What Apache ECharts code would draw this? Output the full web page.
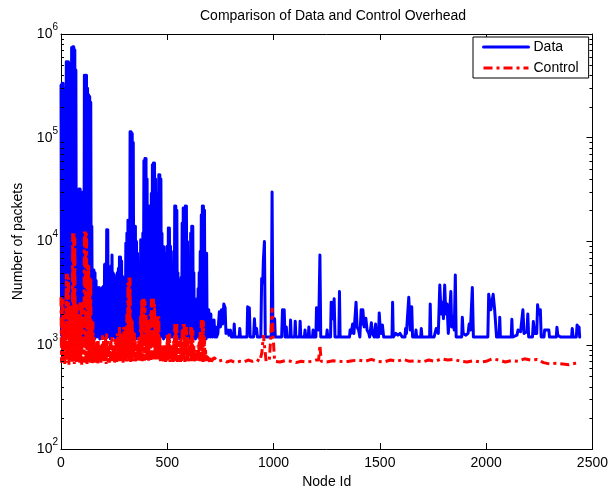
<!DOCTYPE html>
<html>
<head>
<meta charset="utf-8">
<script src="https://cdn.jsdelivr.net/npm/echarts@6/dist/echarts.min.js"></script>
<style>html,body{margin:0;padding:0;background:#fff}#c{width:611px;height:495px}</style>
</head>
<body>
<div id="c"></div>
<script>
// ---- data ----
const xTicks = [0, 500, 1000, 1500, 2000, 2500];
const yMajorTicks = [100, 1000, 10000, 100000, 1000000];
const yMinorTicks = [200,300,400,500,600,700,800,900,
  2000,3000,4000,5000,6000,7000,8000,9000,
  20000,30000,40000,50000,60000,70000,80000,90000,
  200000,300000,400000,500000,600000,700000,800000,900000];

// Dense part of "Data": [node id, local high, local low] (values oscillate node to node)
const dataDense = [
[0,320000,1250],[5,335000,1200],[10,335000,1300],[15,300000,1200],[20,114000,1150],[25,540000,1250],[30,540000,1200],[35,540000,1300],
[40,520000,1200],[45,79000,1150],[50,740000,1250],[55,755000,1200],[60,755000,1300],[65,700000,1200],[70,450000,1250],[75,22000,1150],
[80,22000,1200],[85,32000,1300],[90,32000,1200],[95,30000,1250],[100,22000,1150],[105,30000,1200],[110,400000,1300],[115,400000,1200],
[120,400000,1250],[125,300000,1200],[130,260000,1150],[135,250000,1300],[140,220000,1200],[145,14000,1250],[150,5300,1200],[155,5300,1150],
[160,5000,1300],[165,4200,1200],[170,3600,1250],[175,3500,1200],[180,3600,1150],[185,3400,1300],[190,3500,1200],[195,3600,1250],
[200,3700,1200],[205,6000,1150],[210,6100,1300],[215,13000,1200],[220,13000,1250],[225,4400,1200],[230,4400,1150],[235,5800,1300],
[240,7400,1200],[245,5000,1250],[250,4800,1200],[255,4200,1150],[260,4500,1300],[265,5000,1200],[270,5500,1250],[275,7100,1200],
[280,7100,1150],[285,6500,1300],[290,4600,1200],[295,4400,1250],[300,4300,1200],[305,9600,1150],[310,12000,1300],[315,16000,1200],
[320,16000,1250],[325,114000,1200],[330,114000,1150],[335,110000,1300],[340,90000,1200],[345,14000,1250],[350,14000,1200],[355,10000,1150],
[360,7700,1300],[365,4500,1200],[370,4000,1250],[375,10400,1200],[380,10400,1150],[385,12000,1300],[390,60000,1200],[395,63000,1250],
[400,63000,1200],[405,40000,1150],[410,22000,1300],[415,22000,1200],[420,20000,1250],[425,29000,1200],[430,55000,1150],[435,57000,1300],
[440,57000,1200],[445,40000,1250],[450,29000,1200],[455,29000,1150],[460,44000,1300],[465,44000,1200],[470,40000,1250],[475,12000,1200],
[480,8900,1150],[485,8900,1300],[490,7700,1200],[495,7700,1250],[500,9000,1200],[505,13500,1150],[510,13500,1300],[515,9000,1200],
[520,5700,1250],[525,6000,1200],[530,8000,1150],[535,22000,1300],[540,22000,1200],[545,20000,1250],[550,5000,1200],[555,4200,1150],
[560,3800,1300],[565,4500,1200],[570,15000,1250],[575,21000,1200],[580,20000,1150],[585,22000,1300],[590,22000,1200],[595,10000,1250],
[600,4000,1200],[605,4500,1150],[610,12000,1300],[615,14000,1200],[620,14000,1250],[625,5000,1200],[630,2400,1150],[635,2400,1300],
[640,2800,1200],[645,3500,1250],[650,5000,1200],[655,8000,1150],[660,18000,1300],[665,22000,1200],[670,22000,1250],[675,20000,1200],
[680,7700,1150],[685,7700,1300],[690,2200,1200],[695,2200,1250],[700,2000,1200],[705,2000,1250],[710,1750,1200]
];

// Sparse part of "Data": [node id, packets]
const dataSparse = [
[720,1750],[724,1200],[728,1500],[732,1200],[738,1300],[745,2100],[750,1500],[755,2200],[760,1600],[766,2500],
[772,2300],[776,1300],[785,1400],[790,1250],[797,1400],[802,1200],[812,1200],[815,1600],[818,1200],[838,1200],
[841,1450],[844,1200],[875,1200],[878,2350],[882,1500],[886,2300],[890,1200],[906,1200],[910,1800],[914,1300],
[920,1450],[924,1200],[940,1200],[944,4400],[949,4000],[952,6600],[957,10000],[961,1200],[989,1200],[993,30000],
[997,1200],[1002,1200],[1005,1800],[1008,1200],[1038,1200],[1042,2200],[1046,1500],[1050,2200],[1054,1200],[1058,1200],
[1060,1500],[1063,1200],[1077,1200],[1080,1750],[1083,1200],[1099,1200],[1102,1700],[1105,1200],[1122,1200],[1125,1700],
[1128,1200],[1145,1200],[1148,1400],[1151,1200],[1163,1200],[1166,1500],[1169,1200],[1183,1200],[1186,1400],[1189,1200],
[1199,1200],[1202,2300],[1208,1600],[1212,1400],[1218,7400],[1222,1200],[1249,1200],[1252,1400],[1255,1200],[1268,1200],
[1271,2600],[1278,1800],[1285,2800],[1289,1200],[1307,1200],[1310,3300],[1313,1200],[1357,1200],[1360,1400],[1365,1300],
[1372,1600],[1378,1300],[1388,2600],[1393,1500],[1400,1400],[1406,1200],[1412,2200],[1416,1600],[1420,2200],[1426,1500],
[1434,1820],[1440,1400],[1448,1300],[1452,1200],[1460,1650],[1465,1300],[1474,1200],[1480,1600],[1484,1200],[1494,1200],
[1497,2050],[1502,1400],[1506,1300],[1512,1570],[1518,1200],[1557,1200],[1560,2600],[1563,1200],[1575,1300],[1585,1250],
[1595,1300],[1605,1200],[1618,1200],[1621,1450],[1625,1300],[1636,2900],[1643,1400],[1650,2350],[1654,1200],[1667,1200],
[1670,1400],[1673,1200],[1692,1200],[1695,1450],[1698,1200],[1734,1200],[1737,2500],[1740,1200],[1755,1200],[1765,1450],
[1775,1300],[1782,3800],[1788,2000],[1795,2600],[1799,1800],[1805,3800],[1810,2000],[1816,2500],[1822,1300],[1831,1300],
[1834,3300],[1838,1500],[1845,1900],[1850,1400],[1855,4750],[1859,1200],[1885,1200],[1888,1860],[1892,1300],[1905,1250],
[1915,1300],[1920,1600],[1926,1400],[1935,3600],[1940,1200],[1964,1200],[1967,1250],[1970,1200],[2008,1200],[2012,3100],
[2022,2200],[2033,3100],[2040,2200],[2045,2200],[2049,1200],[2061,1200],[2064,1860],[2067,1200],[2118,1200],[2121,1780],
[2124,1200],[2145,1250],[2150,1400],[2156,1400],[2162,1350],[2170,1300],[2173,2200],[2178,1300],[2192,1350],[2196,2000],
[2200,1200],[2218,1200],[2222,1690],[2228,1300],[2238,1300],[2242,2450],[2248,2000],[2255,2200],[2259,1200],[2272,1200],
[2275,1400],[2295,1400],[2298,1200],[2330,1200],[2333,1490],[2337,1250],[2345,1300],[2350,1200],[2402,1200],[2405,1450],
[2409,1200],[2424,1200],[2428,1570],[2432,1300],[2437,1500],[2440,1200]
];

// Dense part of "Control": [node id, local high, local low]
const controlDense = [
[0,2900,680],[5,2900,650],[10,2800,700],[15,1600,660],[20,1600,720],[25,4900,680],[30,4900,700],[35,4500,650],
[40,2400,690],[45,2400,720],[50,2400,680],[55,12000,700],[60,12000,660],[65,11000,700],[70,2500,690],[75,2500,680],
[80,2000,720],[85,2000,680],[90,2600,700],[95,2600,650],[100,2400,690],[105,1700,700],[110,12500,680],[115,13000,720],
[120,12000,660],[125,6000,700],[130,6000,690],[135,4500,680],[140,4500,700],[145,1700,650],[150,1700,690],[155,1200,700],
[160,1000,680],[165,1000,720],[170,1100,660],[175,1100,700],[180,950,690],[185,1000,680],[190,1000,700],[195,1250,720],
[200,1100,680],[205,1000,700],[210,1200,660],[215,1300,700],[220,1100,690],[225,950,680],[230,1050,720],[235,1100,700],
[240,1200,680],[245,1000,700],[250,1000,660],[255,1150,700],[260,1100,690],[265,1300,720],[270,1200,680],[275,1500,700],
[280,1300,690],[285,1150,700],[290,1300,680],[295,1500,720],[300,1400,700],[305,1500,690],[310,2000,700],[315,4000,720],
[320,4500,700],[325,4500,690],[330,1800,720],[335,1800,700],[340,1350,730],[345,1350,700],[350,1100,690],[355,1000,720],
[360,1000,700],[365,1200,730],[370,1200,710],[375,2000,720],[380,2800,700],[385,2800,740],[390,2800,710],[395,2700,730],
[400,2000,720],[405,1800,740],[410,1500,710],[415,1500,730],[420,2000,720],[425,2800,750],[430,2800,730],[435,2800,740],
[440,2500,720],[445,1900,750],[450,1900,730],[455,1900,720],[460,1900,710],[465,1200,700],[470,1000,720],[475,900,690],
[480,950,700],[485,1000,710],[490,950,690],[495,900,700],[500,1300,720],[505,1300,700],[510,1300,690],[515,900,710],
[520,1000,700],[525,1000,690],[530,1100,700],[535,1600,720],[540,1600,700],[545,1600,690],[550,1100,710],[555,1100,700],
[560,1100,690],[565,1200,700],[570,1400,720],[575,1600,700],[580,1600,690],[585,1500,710],[590,1500,700],[595,1200,690],
[600,900,700],[605,1100,720],[610,1500,700],[615,1500,690],[620,1400,710],[625,1000,700],[630,800,690],[635,850,700],
[640,900,710],[645,1000,690],[650,1200,700],[655,1400,720],[660,1750,700],[665,1750,690],[670,1700,710],[675,1200,700],
[680,900,690],[685,800,700],[690,780,710],[695,760,690],[700,780,700],[705,740,700]
];

// Sparse part of "Control": [node id, packets]
const controlSparse = [
[720,760],[740,700],[760,720],[780,690],[800,710],[820,680],[840,700],[860,690],
[880,720],[900,700],[920,730],[935,700],[945,850],[952,1250],[958,1250],[965,700],[980,720],[988,1300],
[993,2300],[998,1200],[1005,700],[1030,690],[1055,710],[1080,700],[1105,680],[1130,700],[1155,690],[1180,700],
[1200,720],[1212,720],[1218,1000],[1224,700],[1250,690],[1280,710],[1310,700],[1340,690],[1370,710],[1400,720],
[1430,700],[1460,730],[1490,700],[1520,690],[1550,720],[1580,700],[1610,730],[1640,700],[1670,710],[1700,690],
[1730,720],[1760,700],[1790,740],[1820,720],[1850,730],[1880,700],[1910,690],[1940,710],[1970,690],[2000,700],
[2030,740],[2060,720],[2090,690],[2120,710],[2150,700],[2180,740],[2210,720],[2240,730],[2270,680],[2300,660],
[2330,670],[2360,660],[2390,650],[2420,670],[2440,680]
];

// build line data: each dense row gives its high at the node and its low half a step later
function zigzag(rows) {
  const out = [];
  rows.forEach(r => { out.push([r[0], r[1]]); out.push([r[0] + 2.5, r[2]]); });
  return out;
}
const dataLine = zigzag(dataDense).concat(dataSparse);
const controlLine = zigzag(controlDense).concat(controlSparse);

// ---- chart ----
const FONT = '"Liberation Sans", Arial, Helvetica, sans-serif';
const chart = echarts.init(document.getElementById('c'), null, {renderer: 'canvas'});

function logLabel(v) {
  const e = Math.round(Math.log10(v));
  return '{b|10}{s|' + e + '}';
}

const tickSeriesData = yMinorTicks.map(v => [0, v]);

chart.setOption({
  animation: false,
  backgroundColor: '#fff',
  title: {
    text: 'Comparison of Data and Control Overhead',
    left: 195, top: 4,
    textStyle: {fontSize: 14, fontWeight: 'normal', color: '#000', fontFamily: FONT}
  },
  legend: {
    data: ['Data', 'Control'],
    orient: 'vertical',
    left: 473, top: 37,
    itemWidth: 45, itemHeight: 14, itemGap: 7,
    padding: [3, 10, 3, 9],
    borderColor: '#000', borderWidth: 1, borderRadius: 0,
    backgroundColor: '#fff',
    itemStyle: {opacity: 0, borderWidth: 0},
    lineStyle: {width: 3},
    textStyle: {fontSize: 14, color: '#000', fontFamily: FONT}
  },
  grid: {left: 61, right: 16, top: 34, bottom: 46, containLabel: false},
  xAxis: [{
    type: 'value', min: xTicks[0], max: xTicks[xTicks.length - 1], interval: 500,
    position: 'bottom',
    name: 'Node Id', nameLocation: 'middle', nameGap: 25,
    nameTextStyle: {fontSize: 14, color: '#000', fontFamily: FONT},
    axisLine: {show: true, onZero: false, lineStyle: {color: '#000', width: 1}},
    axisTick: {show: true, inside: true, length: 6, lineStyle: {color: '#000'}},
    axisLabel: {fontSize: 14, color: '#000', fontFamily: FONT, margin: 7, formatter: v => String(v)},
    splitLine: {show: false}
  }, {
    type: 'value', min: xTicks[0], max: xTicks[xTicks.length - 1], interval: 500,
    position: 'top',
    axisLine: {show: true, onZero: false, lineStyle: {color: '#000', width: 1}},
    axisTick: {show: true, inside: true, length: 6, lineStyle: {color: '#000'}},
    axisLabel: {show: false},
    splitLine: {show: false}
  }],
  yAxis: [{
    type: 'log', logBase: 10, min: yMajorTicks[0], max: yMajorTicks[yMajorTicks.length - 1],
    position: 'left',
    name: 'Number of packets', nameLocation: 'middle', nameGap: 36,
    nameTextStyle: {fontSize: 14, color: '#000', fontFamily: FONT},
    axisLine: {show: true, onZero: false, lineStyle: {color: '#000', width: 1}},
    axisTick: {show: true, inside: true, length: 6, lineStyle: {color: '#000'}},
    axisLabel: {
      margin: 3, color: '#000', formatter: logLabel,
      rich: {
        b: {fontSize: 14, lineHeight: 14, padding: [5, 0, 5, 0], fontFamily: FONT, color: '#000'},
        s: {fontSize: 10, lineHeight: 10, padding: [0, 0, 14, 0], fontFamily: FONT, color: '#000'}
      }
    },
    splitLine: {show: false}
  }, {
    type: 'log', logBase: 10, min: yMajorTicks[0], max: yMajorTicks[yMajorTicks.length - 1],
    position: 'right',
    axisLine: {show: true, onZero: false, lineStyle: {color: '#000', width: 1}},
    axisTick: {show: true, inside: true, length: 6, lineStyle: {color: '#000'}},
    axisLabel: {show: false},
    splitLine: {show: false}
  }],
  series: [{
    name: 'Data', type: 'line', data: dataLine,
    xAxisIndex: 0, yAxisIndex: 0,
    symbol: 'none', showSymbol: false, sampling: null,
    color: '#0000ff',
    lineStyle: {color: '#0000ff', width: 3, join: 'round', cap: 'round'},
    z: 2
  }, {
    name: 'Control', type: 'line', data: controlLine,
    xAxisIndex: 0, yAxisIndex: 0,
    symbol: 'none', showSymbol: false,
    color: '#ff0000',
    lineStyle: {color: '#ff0000', width: 3, type: [9, 4, 3, 4]},
    z: 3
  }, {
    name: 'minorTicks', type: 'custom', data: tickSeriesData,
    xAxisIndex: 0, yAxisIndex: 0, silent: true, z: 5,
    encode: {x: 0, y: 1},
    renderItem: function (params, api) {
      const v = api.value(1);
      const l = api.coord([xTicks[0], v]);
      const r = api.coord([xTicks[xTicks.length - 1], v]);
      const y = Math.round(l[1]) + 0.5;
      return {type: 'group', children: [
        {type: 'line', shape: {x1: l[0], y1: y, x2: l[0] + 3, y2: y}, style: {stroke: '#000', lineWidth: 1}},
        {type: 'line', shape: {x1: r[0] - 3, y1: y, x2: r[0], y2: y}, style: {stroke: '#000', lineWidth: 1}}
      ]};
    }
  }]
});
</script>
</body>
</html>
